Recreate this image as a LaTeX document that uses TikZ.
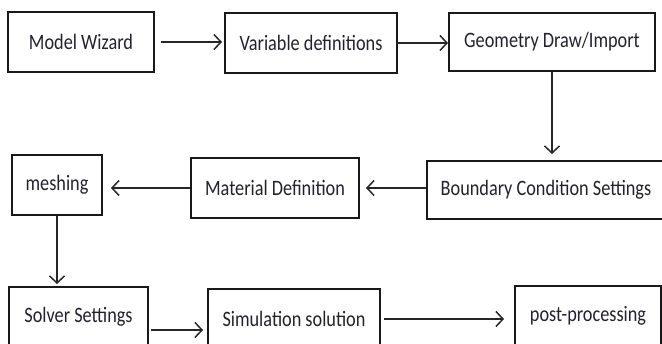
\documentclass[tikz,border=0pt]{standalone}
\usepackage{fontspec}
\setmainfont[FakeStretch=0.83]{Carlito}
\usetikzlibrary{arrows.meta}
\definecolor{txt}{HTML}{22222E}
\tikzset{
  box/.style={draw=black!90, line width=2pt, inner sep=0pt, text=txt,
    font=\fontsize{22}{25}\selectfont},
  arr/.style={draw=black!85, line width=1.5pt, -{Straight Barb[length=7pt,width=15pt,line width=1.5pt]}}
}
\begin{document}
\begin{tikzpicture}[x=1pt,y=-1pt]
\useasboundingbox (0,0) rectangle (662,344);
\clip (0,0) rectangle (662,344);
\node[box, minimum width=146pt, minimum height=60pt] (mw) at (81,42) {Model Wizard};
\node[box, minimum width=172pt, minimum height=60pt] (vd) at (311,43) {Variable definitions};
\node[box, minimum width=206pt, minimum height=58pt] (gd) at (552,42) {Geometry Draw/Import};
\node[box, minimum width=238pt, minimum height=58pt] (bc) at (546,190) {Boundary Condition Settings};
\node[box, minimum width=168pt, minimum height=60pt] (md) at (275,188) {Material Definition};
\node[box, minimum width=90pt, minimum height=60pt] (me) at (57,185) {meshing};
\node[box, minimum width=139pt, minimum height=60pt] (ss) at (78.5,317) {Solver Settings};
\node[box, minimum width=172pt, minimum height=60pt] (sim) at (294,319) {Simulation solution};
\node[box, minimum width=146pt, minimum height=60pt] (pp) at (588,316) {post-processing};
\draw[arr, shorten <=6pt, shorten >=2pt] (mw.east) -- (mw.east -| vd.west);
\draw[arr, shorten <=-2pt] (vd.east) -- (vd.east -| gd.west);
\draw[arr, shorten >=6pt] (gd.south) -- (gd.south |- bc.north);
\draw[arr, shorten >=6pt] (bc.west |- md.east) -- (md.east);
\draw[arr, shorten >=8pt] (md.west) -- (md.west -| me.east);
\draw[arr, shorten >=2pt] (me.south) -- (me.south |- ss.north);
\draw[arr, shorten <=2pt, shorten >=4pt] ([yshift=-13pt]ss.east) -- ([yshift=-13pt]ss.east -| sim.west);
\draw[arr, shorten <=3pt, shorten >=10pt] (sim.east) -- (sim.east -| pp.west);
\end{tikzpicture}
\end{document}
